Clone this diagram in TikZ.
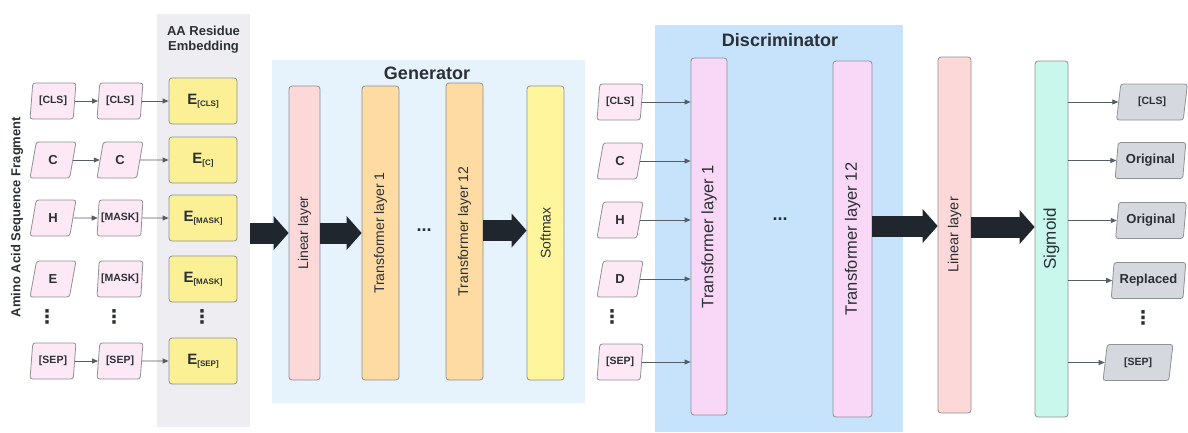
\documentclass[tikz,border=0pt]{standalone}
\usepackage{fontspec}
\setmainfont{Liberation Sans}
\newfontfamily\djv{DejaVu Sans}
\usetikzlibrary{shapes.geometric,arrows.meta,calc}
\definecolor{txt}{HTML}{2B3036}
\definecolor{bord}{HTML}{8E9196}
\definecolor{panelgray}{HTML}{EEEEF2}
\definecolor{genblue}{HTML}{E6F3FD}
\definecolor{discblue}{HTML}{C6E3FB}
\definecolor{inpink}{HTML}{FCE9F5}
\definecolor{eyellow}{HTML}{FBF095}
\definecolor{linpink}{HTML}{FDD8D8}
\definecolor{gorange}{HTML}{FDDBA3}
\definecolor{softy}{HTML}{FFF59D}
\definecolor{dpink}{HTML}{F9D7F7}
\definecolor{sigmint}{HTML}{C9F7EC}
\definecolor{outgray}{HTML}{D5D9DF}
\definecolor{dark}{HTML}{1F262D}
\definecolor{thinc}{HTML}{555D66}
\newcommand{\fsz}[2]{\fontsize{#1}{#2}\selectfont}
\newcommand{\esub}[1]{\raisebox{-1.5pt}{\fsz{8}{8}#1}}
\begin{document}
\begin{tikzpicture}[x=1pt,y=-1pt,
  every node/.style={text=txt, inner sep=0pt},
  panel/.style={rectangle, draw=none},
  tok/.style={trapezium, trapezium left angle=79, trapezium right angle=101,
    trapezium stretches=true, minimum width=46, minimum height=36,
    draw=bord, line width=0.8pt, rounded corners=2.5pt, fill=inpink,
    font=\bfseries\fsz{10.5}{12}},
  bigtok/.style={tok, font=\bfseries\fsz{13}{13}},
  outtok/.style={tok, fill=outgray, minimum width=71},
  ebox/.style={rectangle, rounded corners=3pt, draw=bord, line width=0.8pt,
    fill=eyellow, minimum width=68, minimum height=46, font=\bfseries\fsz{15}{15}},
  layer/.style={rectangle, rounded corners=3pt, draw=bord, line width=0.8pt},
  vtext/.style={rotate=90},
  thin/.style={draw=thinc, line width=0.9pt, -{Triangle[length=6pt,width=5pt]}},
  big/.style={draw=dark, line width=21pt, -{Triangle[length=15pt,width=34pt,line width=0pt]}},
  title/.style={font=\bfseries\fsz{18}{20}},
  hdots/.style={font=\bfseries\fsz{18}{18}},
  vdts/.style={font=\djv\bfseries\fsz{19}{19}}
]
\useasboundingbox[fill=white] (0,0) rectangle (1188,432);

% ---------- panels ----------
\node[panel, fill=panelgray, minimum width=93, minimum height=413] (embp) at (203.5,220.5) {};
\node[panel, fill=genblue, minimum width=313, minimum height=343] (genp) at (428.5,231.5) {};
\node[panel, fill=discblue, minimum width=248, minimum height=407] (discp) at (779,228.5) {};

\node[font=\bfseries\fsz{13}{15}, align=center] (embt) at (203.5,40) {AA Residue\\Embedding};
\node[title] (gent) at (427,73) {Generator};
\node[title] (disct) at (780,40) {Discriminator};
\node[font=\bfseries\fsz{13}{13}, vtext] (amino) at (17,217) {Amino Acid Sequence Fragment};

% ---------- input tokens ----------
\node[tok] (in1a) at (53,101) {[CLS]};
\node[tok] (in1b) at (120,101) {[CLS]};
\node[ebox] (e1) at (203,101) {E\esub{[CLS]}};
\node[bigtok] (in2a) at (53,160) {C};
\node[bigtok] (in2b) at (120,160) {C};
\node[ebox] (e2) at (203,160) {E\esub{[C]}};
\node[bigtok] (in3a) at (53,218) {H};
\node[tok] (in3b) at (120,218) {[MASK]};
\node[ebox] (e3) at (203,218) {E\esub{[MASK]}};
\node[bigtok] (in4a) at (53,279) {E};
\node[tok] (in4b) at (120,279) {[MASK]};
\node[ebox] (e4) at (203,279) {E\esub{[MASK]}};
\node[tok] (in5a) at (53,361) {[SEP]};
\node[tok] (in5b) at (120,361) {[SEP]};
\node[ebox] (e5) at (203,361) {E\esub{[SEP]}};
\node[vdts] (vd1) at (47,317) {⋮};
\node[vdts] (vd2) at (114,317) {⋮};
\node[vdts] (vd3) at (202,317) {⋮};

\foreach \r in {1,2,3,5}{
  \draw[thin] (in\r a.east) -- (in\r b.west);
  \draw[thin] (in\r b.east) -- (e\r.west);
}

% ---------- generator ----------
\node[layer, fill=linpink, minimum width=31, minimum height=294] (glin) at (304.5,233) {};
\node[vtext, font=\fsz{14}{14}] (glinT) at (glin) {Linear layer};
\node[layer, fill=gorange, minimum width=37, minimum height=294] (gt1) at (380.5,233) {};
\node[vtext, font=\fsz{14}{14}] (gt1T) at (gt1) {Transformer layer 1};
\node[layer, fill=gorange, minimum width=37, minimum height=297] (gt12) at (464.5,231.5) {};
\node[vtext, font=\fsz{14}{14}] (gt12T) at (gt12) {Transformer layer 12};
\node[layer, fill=softy, minimum width=37, minimum height=294] (gsoft) at (545.5,233) {};
\node[vtext, font=\fsz{14}{14}] (gsoftT) at (gsoft) {Softmax};
\node[hdots] (gdots) at (424,230) {...};

\draw[big] (embp.east |- glin.west) -- (glin.west);
\draw[big] (glin.east) -- (gt1.west);
\draw[big] ([yshift=1pt]gt12.east) -- ([yshift=1pt]gt12.east -| gsoft.west);

% ---------- discriminator ----------
\node[layer, fill=dpink, minimum width=36, minimum height=357] (dt1) at (709,236.5) {};
\node[vtext, font=\fsz{16.5}{16.5}] (dt1T) at (dt1) {Transformer layer 1};
\node[layer, fill=dpink, minimum width=39, minimum height=356] (dt12) at (852.5,239) {};
\node[vtext, font=\fsz{16.5}{16.5}] (dt12T) at (dt12) {Transformer layer 12};
\node[hdots] (ddots) at (780,219) {...};

\node[tok] (din1) at (620,102) {[CLS]};
\node[bigtok] (din2) at (620,161) {C};
\node[bigtok] (din3) at (620,220) {H};
\node[bigtok] (din4) at (620,279) {D};
\node[tok] (din5) at (620,362) {[SEP]};
\node[vdts] (vd4) at (612,317) {⋮};
\foreach \r in {1,...,5}{
  \draw[thin] (din\r.east) -- (din\r.east -| dt1.west);
}

% ---------- head ----------
\node[layer, fill=linpink, minimum width=33, minimum height=356] (rlin) at (954.5,235) {};
\node[vtext, font=\fsz{14.5}{14.5}] (rlinT) at (rlin) {Linear layer};
\node[layer, fill=sigmint, minimum width=33, minimum height=356] (sig) at (1051.5,239) {};
\node[vtext, font=\fsz{17}{17}] (sigT) at (sig) {Sigmoid};

\draw[big] ([yshift=13pt]dt12.east) -- ([yshift=13pt]dt12.east -| rlin.west);
\draw[big] ([yshift=8pt]rlin.east) -- ([yshift=8pt]rlin.east -| sig.west);

% ---------- outputs ----------
\node[outtok] (o1) at (1152,102) {[CLS]};
\node[outtok, font=\bfseries\fsz{13}{13}] (o2) at (1150.5,160.5) {Original};
\node[outtok, font=\bfseries\fsz{13}{13}] (o3) at (1151,220.5) {Original};
\node[outtok, font=\bfseries\fsz{13}{13}, minimum width=75] (o4) at (1148.5,280.5) {Replaced};
\node[outtok, minimum width=70] (o5) at (1138,362.5) {[SEP]};
\node[vdts] (vd5) at (1143,318) {⋮};
\foreach \r in {1,...,5}{
  \draw[thin] (sig.east |- o\r.west) -- (o\r.west);
}
\end{tikzpicture}
\end{document}
